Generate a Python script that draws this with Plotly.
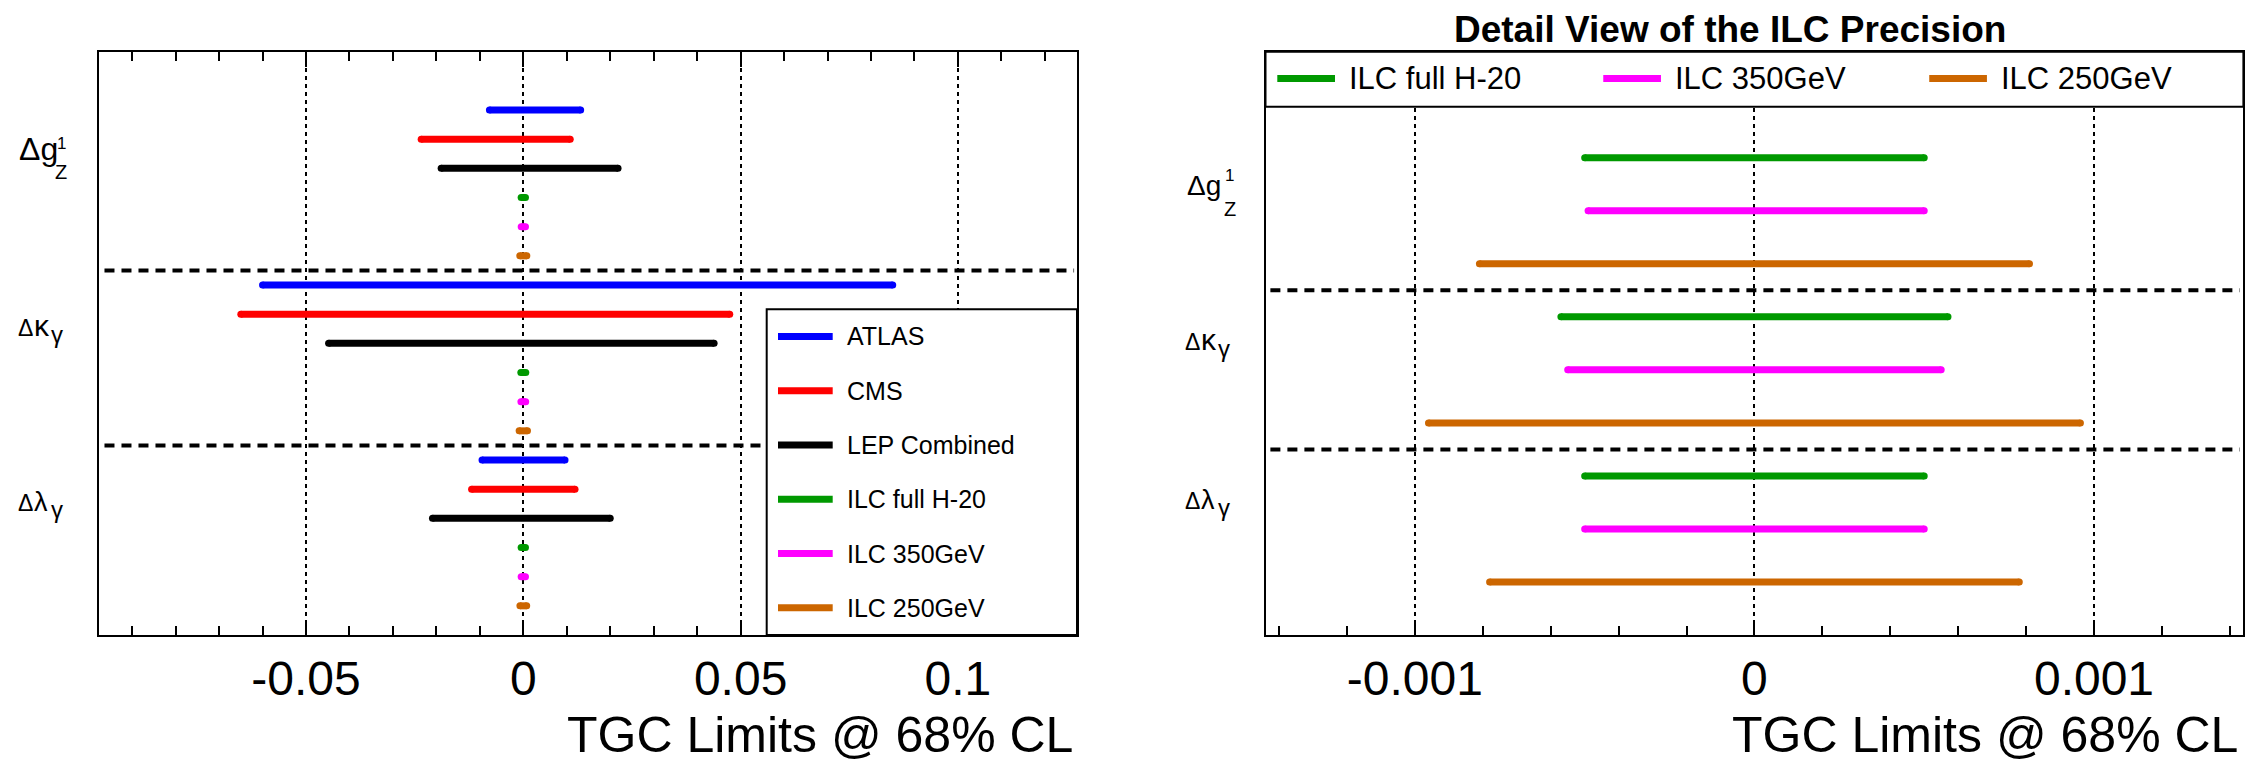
import plotly.graph_objects as go

# ---------------- data ----------------
parameters = ["Δg_Z^1", "Δκ_γ", "Δλ_γ"]
label_main = ["Δg", "Δκ", "Δλ"]
label_sup = ["1", "", ""]
label_sub = ["Z", "γ", "γ"]

experiments = ["ATLAS", "CMS", "LEP Combined", "ILC full H-20", "ILC 350GeV", "ILC 250GeV"]
colors = ["#0000FF", "#FF0000", "#000000", "#009900", "#FF00FF", "#CC6600"]

# 68% CL lower / upper limits for [Δg1Z, Δκγ, Δλγ]
atlas_lo = [-0.0078, -0.0600, -0.0095]
atlas_hi = [0.0132, 0.0850, 0.0096]
cms_lo = [-0.0235, -0.0650, -0.0119]
cms_hi = [0.0108, 0.0475, 0.0119]
lep_lo = [-0.0189, -0.0448, -0.0209]
lep_hi = [0.0218, 0.0439, 0.0200]
ilc_full_lo = [-0.00050, -0.00057, -0.00050]
ilc_full_hi = [0.00050, 0.00057, 0.00050]
ilc350_lo = [-0.00049, -0.00055, -0.00050]
ilc350_hi = [0.00050, 0.00055, 0.00050]
ilc250_lo = [-0.00081, -0.00096, -0.00078]
ilc250_hi = [0.00081, 0.00096, 0.00078]

lows = [atlas_lo, cms_lo, lep_lo, ilc_full_lo, ilc350_lo, ilc250_lo]
highs = [atlas_hi, cms_hi, lep_hi, ilc_full_hi, ilc350_hi, ilc250_hi]
ilc_index = [3, 4, 5]  # experiments shown in the detail view

left_ticks = [-0.05, 0, 0.05, 0.1]
left_ticktext = ["-0.05", "0", "0.05", "0.1"]
right_ticks = [-0.001, 0, 0.001]
right_ticktext = ["-0.001", "0", "0.001"]

# ---------------- style ----------------
W, H = 2260, 763
FONT = "Liberation Sans, Arial, Helvetica, sans-serif"
BAR_W = 7
PLOT_TOP, PLOT_BOT = 51.7, 635.0

fig = go.Figure()


def add_bars(exp_i, rows_per_group, row_in_group, xa, ya):
    xs, ys = [], []
    for g in range(len(parameters)):
        row = rows_per_group * g + row_in_group
        xs += [lows[exp_i][g], highs[exp_i][g], None]
        ys += [row, row, None]
    fig.add_trace(go.Scatter(
        x=xs, y=ys, mode="lines+markers", xaxis=xa, yaxis=ya,
        line=dict(color=colors[exp_i], width=BAR_W),
        marker=dict(color=colors[exp_i], size=BAR_W, symbol="circle"),
        name=experiments[exp_i], showlegend=False, hoverinfo="x+name"))


n_left = len(experiments)
for i in range(n_left):
    add_bars(i, n_left, i, "x", "y")
n_right = len(ilc_index)
for j, i in enumerate(ilc_index):
    add_bars(i, n_right, j, "x2", "y2")

# ---------------- layout ----------------
ydom = [1 - PLOT_BOT / H, 1 - PLOT_TOP / H]
axis_common = dict(
    showline=True, linecolor="black", linewidth=2, mirror="allticks",
    ticks="inside", ticklen=15, tickwidth=2, tickcolor="black",
    showgrid=True, gridcolor="black", gridwidth=1.6, griddash="4px,4px",
    zeroline=False, tickfont=dict(family=FONT, size=48, color="black"),
)
left_range = [n_left * 3, -2]
right_range = [n_right * 3, -2]
fig.update_layout(
    width=W, height=H, margin=dict(l=0, r=0, t=0, b=0), autosize=False,
    paper_bgcolor="white", plot_bgcolor="white", showlegend=False,
    font=dict(family=FONT, color="black"),
    xaxis=dict(domain=[99.3 / W, 1077 / W], range=[-0.09756, 0.1274], anchor="y",
               tickmode="array", tickvals=left_ticks, ticktext=left_ticktext,
               minor=dict(dtick=0.01, tick0=0, ticks="inside", ticklen=9, tickwidth=2,
                          tickcolor="black", showgrid=False),
               **axis_common),
    xaxis2=dict(domain=[1265.5 / W, 2243.4 / W], range=[-0.00144, 0.00144], anchor="y2",
                tickmode="array", tickvals=right_ticks, ticktext=right_ticktext,
                minor=dict(dtick=0.0002, tick0=0, ticks="inside", ticklen=9, tickwidth=2,
                           tickcolor="black", showgrid=False),
                **axis_common),
    yaxis=dict(domain=ydom, range=left_range, anchor="x", showline=True,
               linecolor="black", linewidth=2, mirror=True, ticks="",
               showticklabels=False, showgrid=False, zeroline=False),
    yaxis2=dict(domain=ydom, range=right_range, anchor="x2", showline=True,
                linecolor="black", linewidth=2, mirror=True, ticks="",
                showticklabels=False, showgrid=False, zeroline=False),
)

shapes = []
annotations = []

# group separators
for g in range(1, len(parameters)):
    shapes.append(dict(type="line", xref="x domain", yref="y", x0=0.0053, x1=0.997,
                       y0=n_left * g - 0.5, y1=n_left * g - 0.5,
                       line=dict(color="black", width=4, dash="10px,7px"), layer="above"))
    shapes.append(dict(type="line", xref="x2 domain", yref="y2", x0=0.005, x1=0.9963,
                       y0=n_right * g - 0.5, y1=n_right * g - 0.5,
                       line=dict(color="black", width=4, dash="10px,7px"), layer="above"))


def px_to_row(px, rng):
    span = rng[0] - rng[1]
    return rng[1] + (px - PLOT_TOP) / (PLOT_BOT - PLOT_TOP) * span


# parameter labels: pieces (text, x_px, font size, baseline px) for the first two
# groups; the third group repeats the second one a row-group further down.
ASC = 0.3465  # bbox-centre offset above the baseline, in em
panels = [
    dict(yref="y", rng=left_range, per=n_left,
         g0=[("Δg", 17, 32, 160.0), ("1", 55, 17, 149.0), ("Z", 53, 20, 178.5)],
         g1=[("Δ", 16, 23, 336.0), (None, 32, 30, 336.0), ("γ", 49, 24, 343.0)]),
    dict(yref="y2", rng=right_range, per=n_right,
         g0=[("Δg", 1185, 28, 195.0), ("1", 1223, 17, 181.5), ("Z", 1222, 20, 215.5)],
         g1=[("Δ", 1183, 23, 350.0), (None, 1199, 30, 350.0), ("γ", 1216, 24, 357.0)]),
]
greek_mid = ["", "κ", "λ"]
for p in panels:
    for g in range(len(parameters)):
        if g == 0:
            pieces, shift = p["g0"], 0
        else:
            pieces, shift = p["g1"], p["per"] * (g - 1)
        for text, xpx, size, base in pieces:
            if text is None:
                text = greek_mid[g]
                if text == "λ":
                    size = 27
            ymid = base - ASC * size
            annotations.append(dict(text=text, xref="paper", yref=p["yref"],
                                    x=xpx / W, y=px_to_row(ymid, p["rng"]) + shift,
                                    xanchor="left", yanchor="middle", showarrow=False,
                                    font=dict(size=size)))

# left legend (box + entries)
lbox_x0 = (766.7 - 99.3) / 977.7
lbox_y1 = (635 - 309.3) / 583.3
shapes.append(dict(type="rect", xref="x domain", yref="y domain", x0=lbox_x0, x1=1,
                   y0=0, y1=lbox_y1, fillcolor="white",
                   line=dict(color="black", width=2), layer="above"))
for i, name in enumerate(experiments):
    yc = lbox_y1 - (i + 0.5) / len(experiments) * lbox_y1
    shapes.append(dict(type="line", xref="x domain", yref="y domain",
                       x0=lbox_x0 + 11.3 / 977.7, x1=lbox_x0 + 66 / 977.7, y0=yc, y1=yc,
                       line=dict(color=colors[i], width=7), layer="above"))
    annotations.append(dict(text=name, xref="x domain", yref="y domain",
                            x=lbox_x0 + 78.3 / 977.7, y=yc, xanchor="left",
                            yanchor="middle", showarrow=False, font=dict(size=25)))

# right legend (box across top + entries)
rbox_y0 = 1 - 55 / 583.3
shapes.append(dict(type="rect", xref="x2 domain", yref="y2 domain", x0=0, x1=1,
                   y0=rbox_y0, y1=1, fillcolor="white",
                   line=dict(color="black", width=2), layer="above"))
for j, i in enumerate(ilc_index):
    x_start = j / len(ilc_index) + 11.8 / 977.9
    yc = (rbox_y0 + 1) / 2 + 0.6 / 583.3
    shapes.append(dict(type="line", xref="x2 domain", yref="y2 domain",
                       x0=x_start, x1=x_start + 57.7 / 977.9, y0=yc, y1=yc,
                       line=dict(color=colors[i], width=7), layer="above"))
    annotations.append(dict(text=experiments[i], xref="x2 domain", yref="y2 domain",
                            x=x_start + 69.7 / 977.9, y=yc, xanchor="left",
                            yanchor="middle", showarrow=False, font=dict(size=31)))

# axis titles
for xref, xr in (("x domain", 0.998), ("x2 domain", 0.9965)):
    annotations.append(dict(text="TGC Limits @ 68% CL", xref=xref, yref="paper",
                            x=xr, y=1 - 734.5 / H, xanchor="right", yanchor="middle",
                            showarrow=False, font=dict(size=50)))
# detail panel title
annotations.append(dict(text="<b>Detail View of the ILC Precision</b>", xref="paper",
                        yref="paper", x=1729.5 / W, y=1 - 29.5 / H, xanchor="center",
                        yanchor="middle", showarrow=False, font=dict(size=37)))

fig.update_layout(shapes=shapes, annotations=annotations)
fig.write_html("out.html")
